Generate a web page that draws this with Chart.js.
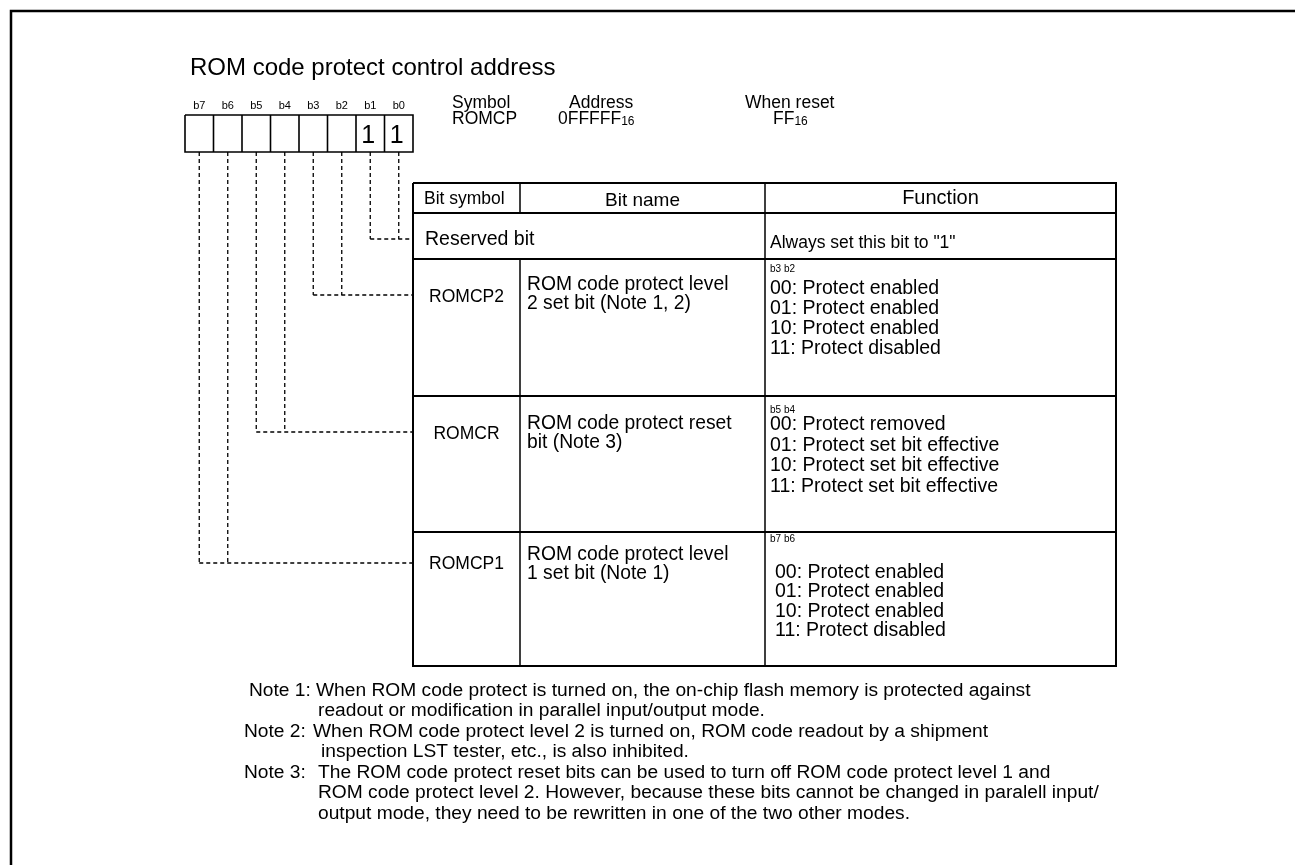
<!DOCTYPE html>
<html>
<head>
<meta charset="utf-8">
<script src="https://cdn.jsdelivr.net/npm/chart.js@4.4.1/dist/chart.umd.min.js"></script>
<style>
  html, body { margin: 0; padding: 0; background: #fff; }
  #wrap { width: 1295px; height: 865px; }
</style>
</head>
<body>
<div id="wrap"><canvas id="diagram" width="1295" height="865"></canvas></div>
<script>
// ---- content of the register diagram ----
const title = 'ROM code protect control address';
const bitLabels = ['b7', 'b6', 'b5', 'b4', 'b3', 'b2', 'b1', 'b0'];
const bitValues = ['', '', '', '', '', '', '1', '1'];
const regHeads = ['Symbol', 'Address', 'When reset'];
const regValues = [['ROMCP', ''], ['0FFFFF', '16'], ['FF', '16']];
const tableHeads = ['Bit symbol', 'Bit name', 'Function'];
const rowSymbols = ['Reserved bit', 'ROMCP2', 'ROMCR', 'ROMCP1'];
const rowBits = [[1, 0], [3, 2], [5, 4], [7, 6]];
const rowNames = [
    [],
    ['ROM code protect level', '2 set bit (Note 1, 2)'],
    ['ROM code protect reset', 'bit (Note 3)'],
    ['ROM code protect level', '1 set bit (Note 1)']
];
const rowBitHeads = ['', 'b3 b2', 'b5 b4', 'b7 b6'];
const rowFunctions = [
    ['Always set this bit to "1"'],
    ['00: Protect enabled', '01: Protect enabled', '10: Protect enabled', '11: Protect disabled'],
    ['00: Protect removed', '01: Protect set bit effective', '10: Protect set bit effective', '11: Protect set bit effective'],
    ['00: Protect enabled', '01: Protect enabled', '10: Protect enabled', '11: Protect disabled']
];
const noteLabels = ['Note 1:', 'Note 2:', 'Note 3:'];
const noteLines = [
    ['When ROM code protect is turned on, the on-chip flash memory is protected against',
     'readout or modification in parallel input/output mode.'],
    ['When ROM code protect level 2 is turned on, ROM code readout by a shipment',
     'inspection LST tester, etc., is also inhibited.'],
    ['The ROM code protect reset bits can be used to turn off ROM code protect level 1 and',
     'ROM code protect level 2. However, because these bits cannot be changed in paralell input/',
     'output mode, they need to be rewritten in one of the two other modes.']
];

// ---- layout (in page units, mapped through the chart scales) ----
const L = {
    frame: { x: 11, y: 11 },
    title: { x: 190, y: 75 },
    reg: { x: 185, top: 115, bottom: 152, cell: 28.5, labelY: 109, valueY: 143 },
    regHeadX: [452, 569, 745], regHeadY: 108,
    regValueX: [452, 558, 773], regValueY: 124,
    table: { left: 413, right: 1116, top: 183, head: 213, rows: [259, 396, 532, 666], cols: [520, 765] },
    headY: 204,
    leaderY: [239, 295, 432, 563],
    symbolY: [245, 302, 439, 569],
    nameY: [0, 290, 429, 560], nameStep: 19,
    bitHeadY: [0, 272, 413, 542],
    funcX: [770, 770, 770, 775], funcY: [248, 294, 430, 578], funcStep: [0, 20, 20.5, 19.3],
    noteLabelX: [249, 244, 244], noteTextX: [316, 313, 318], noteContX: [318, 321, 318],
    noteY: [[696, 716], [737, 757], [778, 798, 819]]
};

const FONT = '"Liberation Sans", Arial, Helvetica, sans-serif';

// ---- line marks as datasets ----
const datasets = [];
function seg(points, width, dash) {
    datasets.push({
        data: points.map(p => ({ x: p[0], y: p[1] })),
        showLine: true,
        borderColor: '#000',
        borderWidth: width,
        borderDash: dash || [],
        pointRadius: 0,
        fill: false,
        tension: 0,
        clip: false
    });
}

// outer frame
seg([[L.frame.x, 865], [L.frame.x, L.frame.y], [1295, L.frame.y]], 2.5);

// register box
const r = L.reg;
const regRight = r.x + r.cell * bitLabels.length;
seg([[r.x, r.top], [regRight, r.top], [regRight, r.bottom], [r.x, r.bottom], [r.x, r.top]], 1.6);
for (let i = 1; i < bitLabels.length; i++) {
    seg([[r.x + i * r.cell, r.top], [r.x + i * r.cell, r.bottom]], 1.6);
}

// dashed leaders from bits to table rows
const bitX = k => r.x + (bitLabels.length - 1 - k + 0.5) * r.cell;
const t = L.table;
rowBits.forEach((bits, i) => {
    const y = L.leaderY[i];
    bits.forEach(k => seg([[bitX(k), r.bottom], [bitX(k), y]], 1.3, [4, 3]));
    const xs = bits.map(bitX);
    seg([[Math.min(...xs), y], [t.left, y]], 1.3, [4, 3]);
});

// table grid
const tBottom = t.rows[t.rows.length - 1];
seg([[t.left, t.top], [t.right, t.top], [t.right, tBottom], [t.left, tBottom], [t.left, t.top]], 2);
seg([[t.left, t.head], [t.right, t.head]], 2);
t.rows.slice(0, -1).forEach(y => seg([[t.left, y], [t.right, y]], 2));
seg([[t.cols[0], t.top], [t.cols[0], t.head]], 1.5);
seg([[t.cols[0], t.rows[0]], [t.cols[0], tBottom]], 1.5);
seg([[t.cols[1], t.top], [t.cols[1], tBottom]], 1.5);

// ---- text marks ----
const textPlugin = {
    id: 'diagramText',
    afterDatasetsDraw(chart) {
        const ctx = chart.ctx;
        const sx = v => chart.scales.x.getPixelForValue(v);
        const sy = v => chart.scales.y.getPixelForValue(v);
        const put = (str, x, y, size, align) => {
            ctx.font = size + 'px ' + FONT;
            ctx.textAlign = align || 'left';
            ctx.fillText(str, sx(x), sy(y));
        };
        ctx.save();
        ctx.fillStyle = '#000';
        ctx.textBaseline = 'alphabetic';

        put(title, L.title.x, L.title.y, 24);

        bitLabels.forEach((b, i) => {
            const cx = r.x + (i + 0.5) * r.cell;
            put(b, cx, r.labelY, 11, 'center');
            if (bitValues[i]) put(bitValues[i], cx - 2, r.valueY, 25, 'center');
        });

        regHeads.forEach((h, i) => {
            put(h, L.regHeadX[i], L.regHeadY, 17.5);
            ctx.font = '17.5px ' + FONT;
            const w = ctx.measureText(regValues[i][0]).width;
            put(regValues[i][0], L.regValueX[i], L.regValueY, 17.5);
            if (regValues[i][1]) put(regValues[i][1], L.regValueX[i] + w, L.regValueY + 1, 12);
        });

        const colMid0 = (t.left + t.cols[0]) / 2;
        const colMid1 = (t.cols[0] + t.cols[1]) / 2;
        const colMid2 = (t.cols[1] + t.right) / 2;
        put(tableHeads[0], t.left + 11, L.headY, 17.5);
        put(tableHeads[1], colMid1, L.headY + 2, 19, 'center');
        put(tableHeads[2], colMid2, L.headY, 20, 'center');

        rowSymbols.forEach((s, i) => {
            if (i === 0) put(s, t.left + 12, L.symbolY[i], 19.5);
            else put(s, colMid0, L.symbolY[i], 17.5, 'center');
            rowNames[i].forEach((n, j) => put(n, t.cols[0] + 7, L.nameY[i] + j * L.nameStep, 19.3));
            if (rowBitHeads[i]) put(rowBitHeads[i], L.funcX[0], L.bitHeadY[i], 10);
            rowFunctions[i].forEach((f, j) => {
                put(f, L.funcX[i], L.funcY[i] + j * L.funcStep[i], i === 0 ? 17.5 : 19.5);
            });
        });

        noteLabels.forEach((lab, i) => {
            put(lab, L.noteLabelX[i], L.noteY[i][0], 19.2);
            noteLines[i].forEach((ln, j) => {
                put(ln, j === 0 ? L.noteTextX[i] : L.noteContX[i], L.noteY[i][j], 19.2);
            });
        });
        ctx.restore();
    }
};

new Chart(document.getElementById('diagram'), {
    type: 'scatter',
    data: { datasets: datasets },
    options: {
        responsive: false,
        animation: false,
        events: [],
        layout: { padding: 0 },
        plugins: { legend: { display: false }, tooltip: { enabled: false } },
        scales: {
            x: { type: 'linear', min: 0, max: 1295, display: false },
            y: { type: 'linear', min: 0, max: 865, reverse: true, display: false }
        }
    },
    plugins: [textPlugin]
});
</script>
</body>
</html>
